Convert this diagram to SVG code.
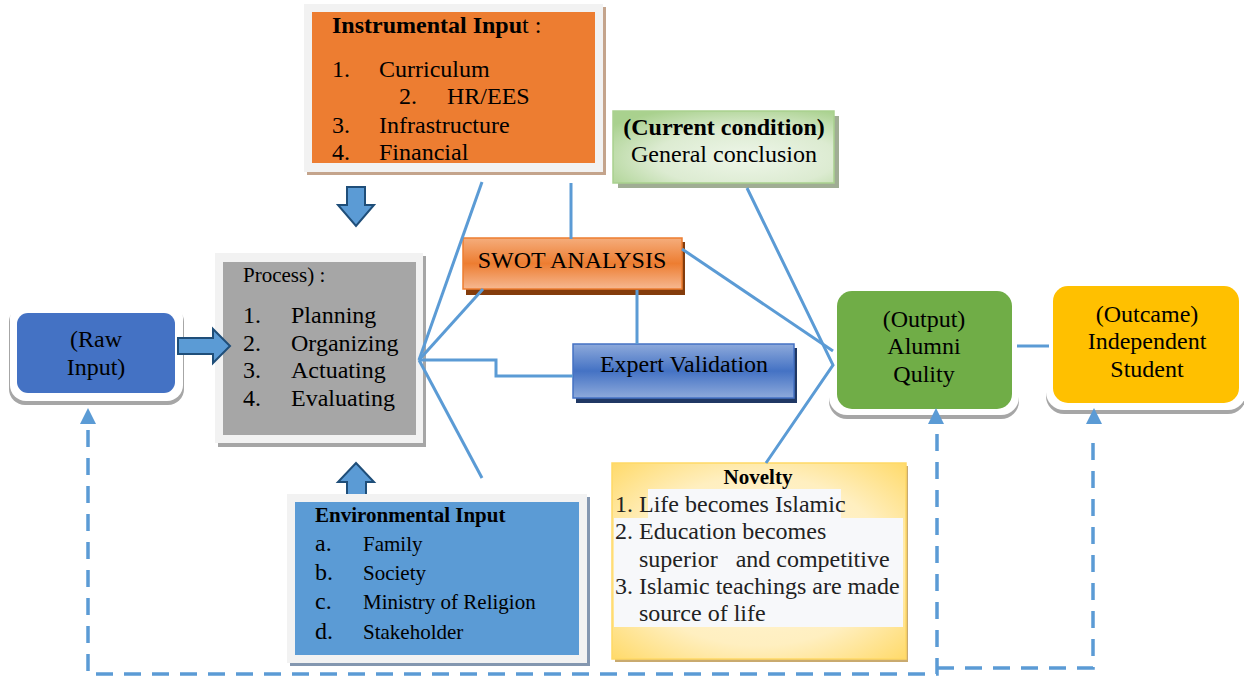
<svg xmlns="http://www.w3.org/2000/svg" width="1244" height="677" viewBox="0 0 1244 677">
<style>
text{font-family:"Liberation Serif","Times New Roman",serif;fill:#000}
.t24{font-size:24px}
.t21{font-size:21px}
.b{font-weight:bold}
.c{text-anchor:middle}
.con{fill:none;stroke:#5b9bd5;stroke-width:3}
.dash{fill:none;stroke:#5b9bd5;stroke-width:3.5;stroke-dasharray:17 11}
.blk{fill:#5b9bd5;stroke:#1f4e79;stroke-width:2}
.nov{font-size:24px;fill:#222}
</style>
<defs>
<linearGradient id="gSwot" x1="0" y1="0" x2="0" y2="1">
<stop offset="0" stop-color="#f5ad7c"/><stop offset="0.5" stop-color="#ed7d31"/><stop offset="1" stop-color="#f6b891"/>
</linearGradient>
<linearGradient id="gExp" x1="0" y1="0" x2="0" y2="1">
<stop offset="0" stop-color="#8eaadb"/><stop offset="0.5" stop-color="#4472c4"/><stop offset="1" stop-color="#8eaadb"/>
</linearGradient>
<radialGradient id="gCur" cx="0.6" cy="0.65" r="0.75">
<stop offset="0" stop-color="#eef6e9"/><stop offset="0.55" stop-color="#dcebd1"/><stop offset="1" stop-color="#a9d18e"/>
</radialGradient>
<radialGradient id="gNov" cx="0.5" cy="0.5" r="0.72">
<stop offset="0" stop-color="#fff6db"/><stop offset="0.6" stop-color="#ffefc0"/><stop offset="1" stop-color="#ffd966"/>
</radialGradient>
</defs>

<g id="instrumental">
<rect x="307" y="7" width="299" height="168" fill="#c4a48c"/>
<rect x="304" y="4" width="299" height="168" fill="#f2f2f2"/>
<rect x="312" y="12" width="283" height="151" fill="#ed7d31"/>
<text class="t24" x="332" y="33"><tspan class="b">Instrumental Inpu</tspan>t :</text>
<text class="t24" x="332" y="77">1.</text><text class="t24" x="379" y="77">Curriculum</text>
<text class="t24" x="399" y="104">2.</text><text class="t24" x="447" y="104">HR/EES</text>
<text class="t24" x="332" y="133">3.</text><text class="t24" x="379" y="133">Infrastructure</text>
<text class="t24" x="332" y="160">4.</text><text class="t24" x="379" y="160">Financial</text>
</g>

<g id="arrow-down">
<polygon class="blk" points="347,187 365,187 365,205 374,205 356,226 338,205 347,205"/>
</g>

<g id="process">
<rect x="218" y="256" width="208" height="191" fill="#a6a6a6"/>
<rect x="215" y="253" width="208" height="190" fill="#f2f2f2"/>
<rect x="223" y="262" width="193" height="173" fill="#a6a6a6"/>
<text class="t21" x="243" y="282">Process) :</text>
<text class="t24" x="243" y="323">1.</text><text class="t24" x="291" y="323">Planning</text>
<text class="t24" x="243" y="351">2.</text><text class="t24" x="291" y="351">Organizing</text>
<text class="t24" x="243" y="378">3.</text><text class="t24" x="291" y="378">Actuating</text>
<text class="t24" x="243" y="406">4.</text><text class="t24" x="291" y="406">Evaluating</text>
</g>

<g id="raw-input">
<rect x="9" y="306" width="175" height="99" rx="16" fill="#a6a6a6"/>
<rect x="10" y="302" width="173" height="99" rx="16" fill="#ffffff"/>
<rect x="17" y="313" width="158" height="80" rx="11" fill="#4472c4"/>
<text class="t24 c" x="96" y="347">(Raw</text>
<text class="t24 c" x="96" y="375">Input)</text>
</g>

<g id="arrow-right">
<polygon class="blk" points="178,338 213,338 213,329 230,346 213,363 213,354 178,354"/>
</g>

<g id="arrow-up">
<polygon class="blk" points="356,463 374,482 366,482 366,500 347,500 347,482 338,482"/>
</g>

<g id="environmental">
<rect x="290" y="497" width="300" height="169" fill="#8497b0"/>
<rect x="287" y="494" width="300" height="169" fill="#f2f2f2"/>
<rect x="295" y="502" width="284" height="153" fill="#5b9bd5"/>
<text class="t21 b" x="315" y="522">Environmental Input</text>
<text class="t24" x="315" y="551">a.</text><text class="t21" x="363" y="551">Family</text>
<text class="t24" x="315" y="580">b.</text><text class="t21" x="363" y="580">Society</text>
<text class="t24" x="315" y="609">c.</text><text class="t21" x="363" y="609">Ministry of Religion</text>
<text class="t24" x="315" y="639">d.</text><text class="t21" x="363" y="639">Stakeholder</text>
</g>

<g id="swot">
<rect x="466" y="242" width="219" height="53" fill="#843c0c"/>
<rect x="463" y="238" width="219" height="51" fill="url(#gSwot)" stroke="#ed7d31" stroke-width="1.5"/>
<text class="t24 c" x="572" y="268">SWOT ANALYSIS</text>
</g>

<g id="expert">
<rect x="576" y="348" width="221" height="55" fill="#203864"/>
<rect x="573" y="344" width="221" height="54" fill="url(#gExp)" stroke="#4472c4" stroke-width="1.5"/>
<text class="t24 c" x="684" y="372">Expert Validation</text>
</g>

<g id="current">
<rect x="618" y="116" width="221" height="72" fill="#a0ad94"/>
<rect x="613" y="111" width="221" height="72" fill="url(#gCur)" stroke="#a9d18e" stroke-width="1.5"/>
<text class="t24 c b" x="724" y="135">(Current condition)</text>
<text class="t24 c" x="724" y="162">General conclusion</text>
</g>

<g id="output">
<rect x="829" y="291" width="190" height="128" rx="18" fill="#a6a6a6"/>
<rect x="829" y="286" width="190" height="129" rx="18" fill="#ffffff"/>
<rect x="837" y="291" width="175" height="118" rx="15" fill="#70ad47"/>
<text class="t24 c" x="924" y="327">(Output)</text>
<text class="t24 c" x="924" y="354">Alumni</text>
<text class="t24 c" x="924" y="382">Qulity</text>
</g>

<g id="outcome">
<rect x="1046" y="285" width="200" height="129" rx="18" fill="#a6a6a6"/>
<rect x="1046" y="280" width="200" height="130" rx="18" fill="#ffffff"/>
<rect x="1053" y="286" width="186" height="117" rx="15" fill="#ffc000"/>
<text class="t24 c" x="1147" y="322">(Outcame)</text>
<text class="t24 c" x="1147" y="349">Independent</text>
<text class="t24 c" x="1147" y="377">Student</text>
</g>

<g id="novelty">
<rect x="615" y="466" width="293" height="196" fill="#c9aa6f"/>
<rect x="612" y="463" width="294" height="196" fill="url(#gNov)" stroke="#ffd966" stroke-width="1.5"/>
<rect x="648" y="489" width="193" height="29" fill="#f7f8fa"/>
<rect x="614" y="518" width="289" height="109" fill="#f7f8fa"/>
<text class="t21 b c" x="758" y="484">Novelty</text>
<text class="nov" x="615" y="512">1. Life becomes Islamic</text>
<text class="nov" x="615" y="539">2. Education becomes</text>
<text class="nov" x="639" y="567" xml:space="preserve">superior   and competitive</text>
<text class="nov" x="615" y="594">3. Islamic teachings are made</text>
<text class="nov" x="639" y="621">source of life</text>
</g>

<g id="connectors">
<line class="con" x1="419" y1="360" x2="482" y2="182"/>
<line class="con" x1="419" y1="360" x2="483" y2="289"/>
<polyline class="con" points="419,360 496,360 496,376 573,376"/>
<line class="con" x1="419" y1="360" x2="482" y2="478"/>
<line class="con" x1="571" y1="183" x2="571" y2="239"/>
<line class="con" x1="637" y1="290" x2="637" y2="344"/>
<line class="con" x1="682" y1="249" x2="833" y2="351"/>
<polyline class="con" points="747,188 833,365 766,463"/>
<line class="con" x1="1017" y1="346" x2="1049" y2="346"/>
<path class="dash" d="M88,430 V674 H937 V432"/>
<path class="dash" d="M937,668 H1093 V432"/>
<polygon points="88,408 80,424 96,424" fill="#5b9bd5"/>
<polygon points="936,408 928,424 944,424" fill="#5b9bd5"/>
<polygon points="1094,408 1086,424 1102,424" fill="#5b9bd5"/>
</g>
</svg>
